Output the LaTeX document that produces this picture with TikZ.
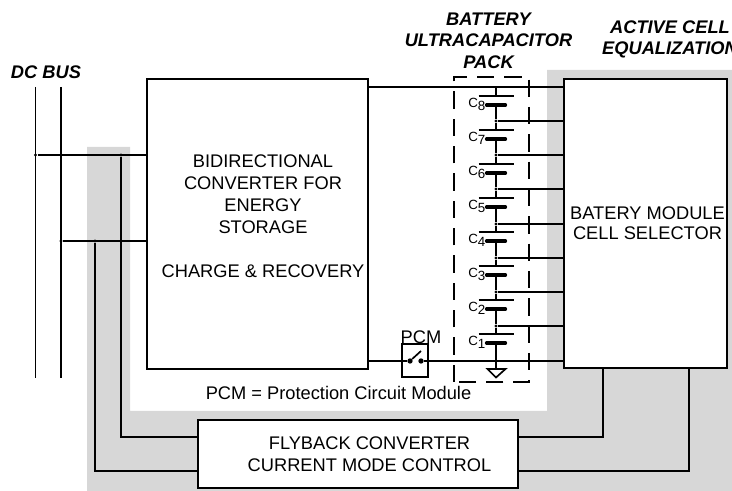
\documentclass[tikz,border=0pt]{standalone}
\usepackage{fontspec}
\setmainfont{Liberation Sans}
\usetikzlibrary{positioning,calc}
\definecolor{greyarea}{HTML}{D7D7D7}
\tikzset{
  wire/.style={line width=1.25pt},
  blk/.style={draw, line width=1.3pt, fill=white, inner sep=0pt, outer sep=0pt},
  txt/.style={font=\fontsize{13.7}{16.5}\selectfont, align=center, inner sep=0pt},
  ttl/.style={font=\fontsize{13.7}{16}\selectfont\bfseries\itshape, align=center, inner sep=0pt},
  cname/.style={font=\fontsize{10}{11}\selectfont, inner sep=0pt},
  dotj/.style={circle, fill=black, inner sep=0pt, minimum size=2.6pt}}

\begin{document}
\begin{tikzpicture}[x=0.75pt,y=-0.75pt]
\useasboundingbox (0,0) rectangle (732,491);
\fill[greyarea] (87,147) -- (130,147) -- (130,411) -- (547,411) -- (547,70) -- (732,70) -- (732,491) -- (87,491) -- cycle;
\node[blk, minimum width=165.75pt, minimum height=217.5pt] (conv) at (257.5,224) {};
\node[blk, minimum width=122.25pt, minimum height=216.75pt] (sel) at (645.5,223.5) {};
\node[blk, minimum width=240pt, minimum height=51pt] (fly) at (358,454) {};
\node[txt] (convtxt) at (263,216.5) {BIDIRECTIONAL\\CONVERTER FOR\\ENERGY\\STORAGE\\[16.5pt]CHARGE \& RECOVERY};
\node[txt, font=\fontsize{13.7}{15}\selectfont] (seltxt) at (647.5,223) {BATERY MODULE\\CELL SELECTOR};
\node[txt] (flytxt) at (369.5,454) {FLYBACK CONVERTER\\CURRENT MODE CONTROL};
\node[txt] (note) at (338.5,393) {PCM = Protection Circuit Module};
\node[ttl] (busttl) at (46,72) {DC BUS};
\node[ttl] (packttl) at (488.5,40.5) {BATTERY\\ULTRACAPACITOR\\PACK};
\node[ttl] (eqttl) at (670,39.5) {ACTIVE CELL\\EQUALIZATION};
% dc bus
\coordinate (bus1a) at (35.5,87);
\coordinate (bus1b) at (35.5,378);
\coordinate (bus2a) at (61,87);
\coordinate (bus2b) at (61,378);
\draw[wire] (bus1a) -- (bus1b);
\draw[wire] (bus2a) -- (bus2b);
\node[dotj] (j1) at (35.5,155) {};
\node[dotj] (j2) at (61,241) {};
\node[dotj] (j3) at (121,155) {};
\node[dotj] (j4) at (95,241) {};
\draw[wire] (j1) -- (j1 -| conv.west);
\draw[wire] (j2) -- (j2 -| conv.west);
\coordinate (lvl1) at (358,437);
\coordinate (lvl2) at (358,471);
\coordinate (out1) at (603,368);
\coordinate (out2) at (689,368);
\draw[wire] (j3) |- (lvl1 -| fly.west);
\draw[wire] (j4) |- (lvl2 -| fly.west);
\draw[wire] (out1) |- (lvl1 -| fly.east);
\draw[wire] (out2) |- (lvl2 -| fly.east);
% cells
\coordinate (rail) at (496,87);
\draw[wire] (rail -| conv.east) -- (rail -| sel.west);
\foreach \n [count=\i from 0] in {8,...,1} {
  \pgfmathsetmacro{\ya}{96+34*\i}
  \pgfmathsetmacro{\yb}{105+34*\i}
  \coordinate (lp\n) at (496,\ya);
  \coordinate (sp\n) at (496,\yb);
  \draw[line width=1pt] ($(lp\n)+(-17.5,0)$) -- ($(lp\n)+(17.5,0)$);
  \draw[line width=2.4pt, line cap=round] ($(sp\n)+(-9.5,0)$) -- ($(sp\n)+(9.5,0)$);
  \node[cname, anchor=west] (c\n) at (468,\yb-0.5) {C\raisebox{-1.8pt}{\n}};
}
\draw[wire] (rail) -- (lp8);
\foreach \n/\m/\yc in {8/7/121,7/6/155,6/5/189,5/4/224,4/3/258,3/2/292,2/1/326} {
  \node[dotj] (tap\n) at (496,\yc) {};
  \draw[wire] (sp\n) -- (tap\n) -- (lp\m);
  \draw[wire] (tap\n) -- (tap\n -| sel.west);
}
% switch and ground
\node[blk, fill=none, minimum width=19.5pt, minimum height=24.75pt] (pcm) at (415,360.5) {};
\node[txt, anchor=south] (pcmtxt) at (421,344) {PCM};
\node[dotj, minimum size=4pt] (sw1) at (410,361) {};
\node[dotj, minimum size=4pt] (sw2) at (421,361) {};
\coordinate (swtop) at (421,351);
\coordinate (gnd) at (496,369);
\draw[wire] (sw1 -| conv.east) -- (sw1);
\draw[wire] (sw2) -- (sw2 -| sel.west);
\draw[wire] (sw1) -- (swtop);
\draw[wire] (sp1) -- (gnd);
\draw[wire] (487.5,369) -- (505.5,369) -- (496,377.5) -- cycle;
\draw[wire, dash pattern=on 13pt off 7.5pt] (454,382) -- (454,77) -- (529,77) -- (529,382) -- cycle;
\end{tikzpicture}
\end{document}
